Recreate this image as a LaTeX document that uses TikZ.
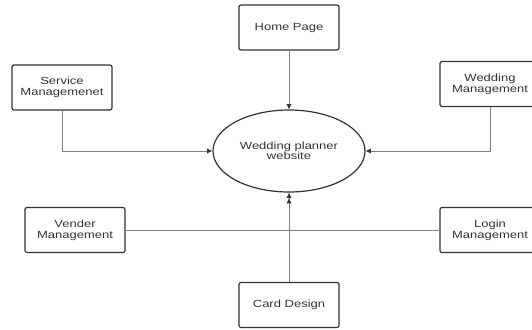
\documentclass[tikz,border=0pt]{standalone}
\usepackage{fontspec}
\setmainfont{Liberation Sans}
\newfontfamily\boxfont[FakeStretch=1.25]{Liberation Sans}
\usepackage{tikz}
\usetikzlibrary{shapes.geometric}
\usetikzlibrary{arrows.meta}
\usepackage{xcolor}

\begin{document}
\begin{tikzpicture}[x=0.75pt,y=0.75pt,yscale=-1,xscale=1,
  module/.style={draw={rgb,255:red,51;green,51;blue,51},line width=0.9,rounded corners=1.5pt,
    minimum width=75pt,minimum height=33.75pt,inner sep=0pt,align=center,
    font=\boxfont\fontsize{7.8pt}{8.4pt}\selectfont,text={rgb,255:red,51;green,51;blue,51}},
  hub/.style={ellipse,draw={rgb,255:red,51;green,51;blue,51},line width=0.9,
    minimum width=114pt,minimum height=61.5pt,inner sep=0pt,align=center,
    font=\boxfont\fontsize{7.8pt}{7.4pt}\selectfont,text={rgb,255:red,51;green,51;blue,51}},
  flow/.style={draw={rgb,255:red,128;green,128;blue,128},line width=0.7,
    -{Latex[length=4pt,width=4pt,color={rgb,255:red,51;green,51;blue,51}]}},
  link/.style={draw={rgb,255:red,128;green,128;blue,128},line width=0.7}]
%set diagram to 532 x 329
\path[use as bounding box] (0,0) rectangle (532,329);
\clip (0,0) rectangle (532,329);

%Shape: Ellipse
\node[hub] (site) at (289,151) {Wedding planner\\website};

%Shape: Rectangle
\node[module] (home) at (289,27.5) {Home Page};
%Shape: Rectangle
\node[module] (service) at (62,87.5) {Service\\Managemenet};
%Shape: Rectangle
\node[module] (wedding) at (490,84) {Wedding\\Management};
%Shape: Rectangle
\node[module] (vender) at (75,230) {Vender\\Management};
%Shape: Rectangle
\node[module] (login) at (490,230) {Login\\Management};
%Shape: Rectangle
\node[module] (card) at (289,305) {Card Design};

%Straight Lines
\draw[flow] (home) -- (site);
\draw[flow] (service.south) |- (site.west);
\draw[flow] (wedding.south) |- (site.east);
\draw[link] (vender) -- (login);
\draw[flow,-{Latex[length=4pt,width=4pt,color={rgb,255:red,51;green,51;blue,51}]Latex[length=4pt,width=4pt,color={rgb,255:red,51;green,51;blue,51}]}] (card) -- (site);

\end{tikzpicture}
\end{document}
